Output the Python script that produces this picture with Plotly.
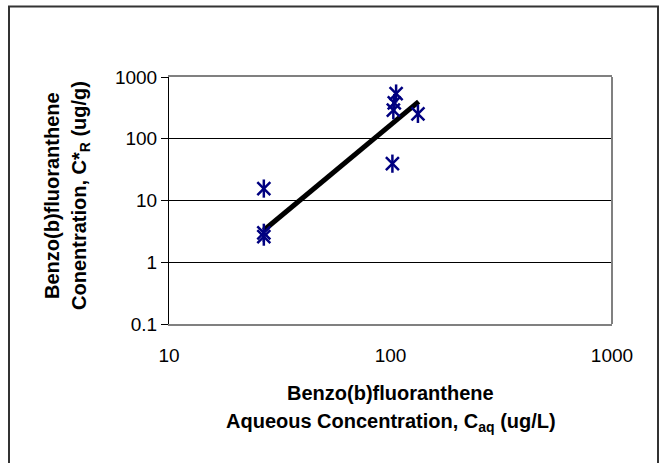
import plotly.graph_objects as go

x_obs = [26.8, 26.8, 26.8, 102, 106, 103, 104, 133]
y_obs = [15.6, 2.6, 3.0, 39.5, 540, 290, 380, 253]

# Fitted line endpoints
x_fit = [26.8, 134]
y_fit = [3.3, 400]

x_ticks = [10, 100, 1000]
y_ticks = [0.1, 1, 10, 100, 1000]

FONT = "Liberation Sans, Arial, sans-serif"
W, H = 663, 463
L, R, T, B = 169, 612, 77, 324

def px(x):
    return (x - L) / (R - L)

def py(y):
    return (B - y) / (B - T)

fig = go.Figure()
fig.add_trace(go.Scatter(x=x_fit, y=y_fit, mode="lines",
                         line=dict(color="black", width=5), showlegend=False))
for sym in ["x-thin", "line-ns"]:
    fig.add_trace(go.Scatter(x=x_obs, y=y_obs, mode="markers", showlegend=False,
                             marker=dict(symbol=sym, size=13, color="#000080",
                                         line=dict(color="#000080", width=2.5))))

fig.update_layout(
    width=W, height=H,
    margin=dict(l=L, r=W - R, t=T, b=H - B),
    paper_bgcolor="white", plot_bgcolor="white",
    font=dict(family=FONT, size=19, color="black"),
    xaxis=dict(type="log", range=[1, 3], tickvals=x_ticks, ticktext=[str(v) for v in x_ticks],
               showgrid=False, zeroline=False, showline=True, linecolor="#808080",
               linewidth=2, mirror=True, ticks="", ticklabelstandoff=13,
               tickfont=dict(size=19)),
    yaxis=dict(type="log", range=[-1, 3], tickvals=y_ticks,
               ticktext=["0.1", "1", "10", "100", "1000"],
               showgrid=True, gridcolor="black", gridwidth=1, zeroline=False,
               showline=True, linecolor="black", linewidth=1, ticks="outside",
               ticklen=7, tickcolor="black", tickfont=dict(size=19)),
    shapes=[
        dict(type="line", xref="paper", yref="paper", x0=1, x1=1, y0=0, y1=1,
             line=dict(color="#808080", width=2)),
        dict(type="rect", xref="paper", yref="paper",
             x0=px(9), x1=px(658), y0=py(467), y1=py(6.5),
             line=dict(color="#333333", width=2)),
    ],
    annotations=[
        dict(text="<b>Benzo(b)fluoranthene</b>", xref="paper", yref="paper",
             x=0.5, y=py(393), showarrow=False, font=dict(size=20),
             xanchor="center", yanchor="middle"),
        dict(text="<b>Aqueous Concentration, C<sub>aq</sub> (ug/L)</b>", xref="paper", yref="paper",
             x=0.5, y=py(422), showarrow=False, font=dict(size=20),
             xanchor="center", yanchor="middle"),
        dict(text="<b>Benzo(b)fluoranthene</b>", xref="paper", yref="paper",
             x=px(52), y=py(196), showarrow=False, font=dict(size=20), textangle=-90,
             xanchor="center", yanchor="middle"),
        dict(text="<b>Conentration, C*<sub>R</sub> (ug/g)</b>", xref="paper", yref="paper",
             x=px(80), y=py(196), showarrow=False, font=dict(size=20), textangle=-90,
             xanchor="center", yanchor="middle"),
    ],
)

fig.write_html("out.html", config={"displayModeBar": False},
               post_script="document.body.style.margin='0';")
